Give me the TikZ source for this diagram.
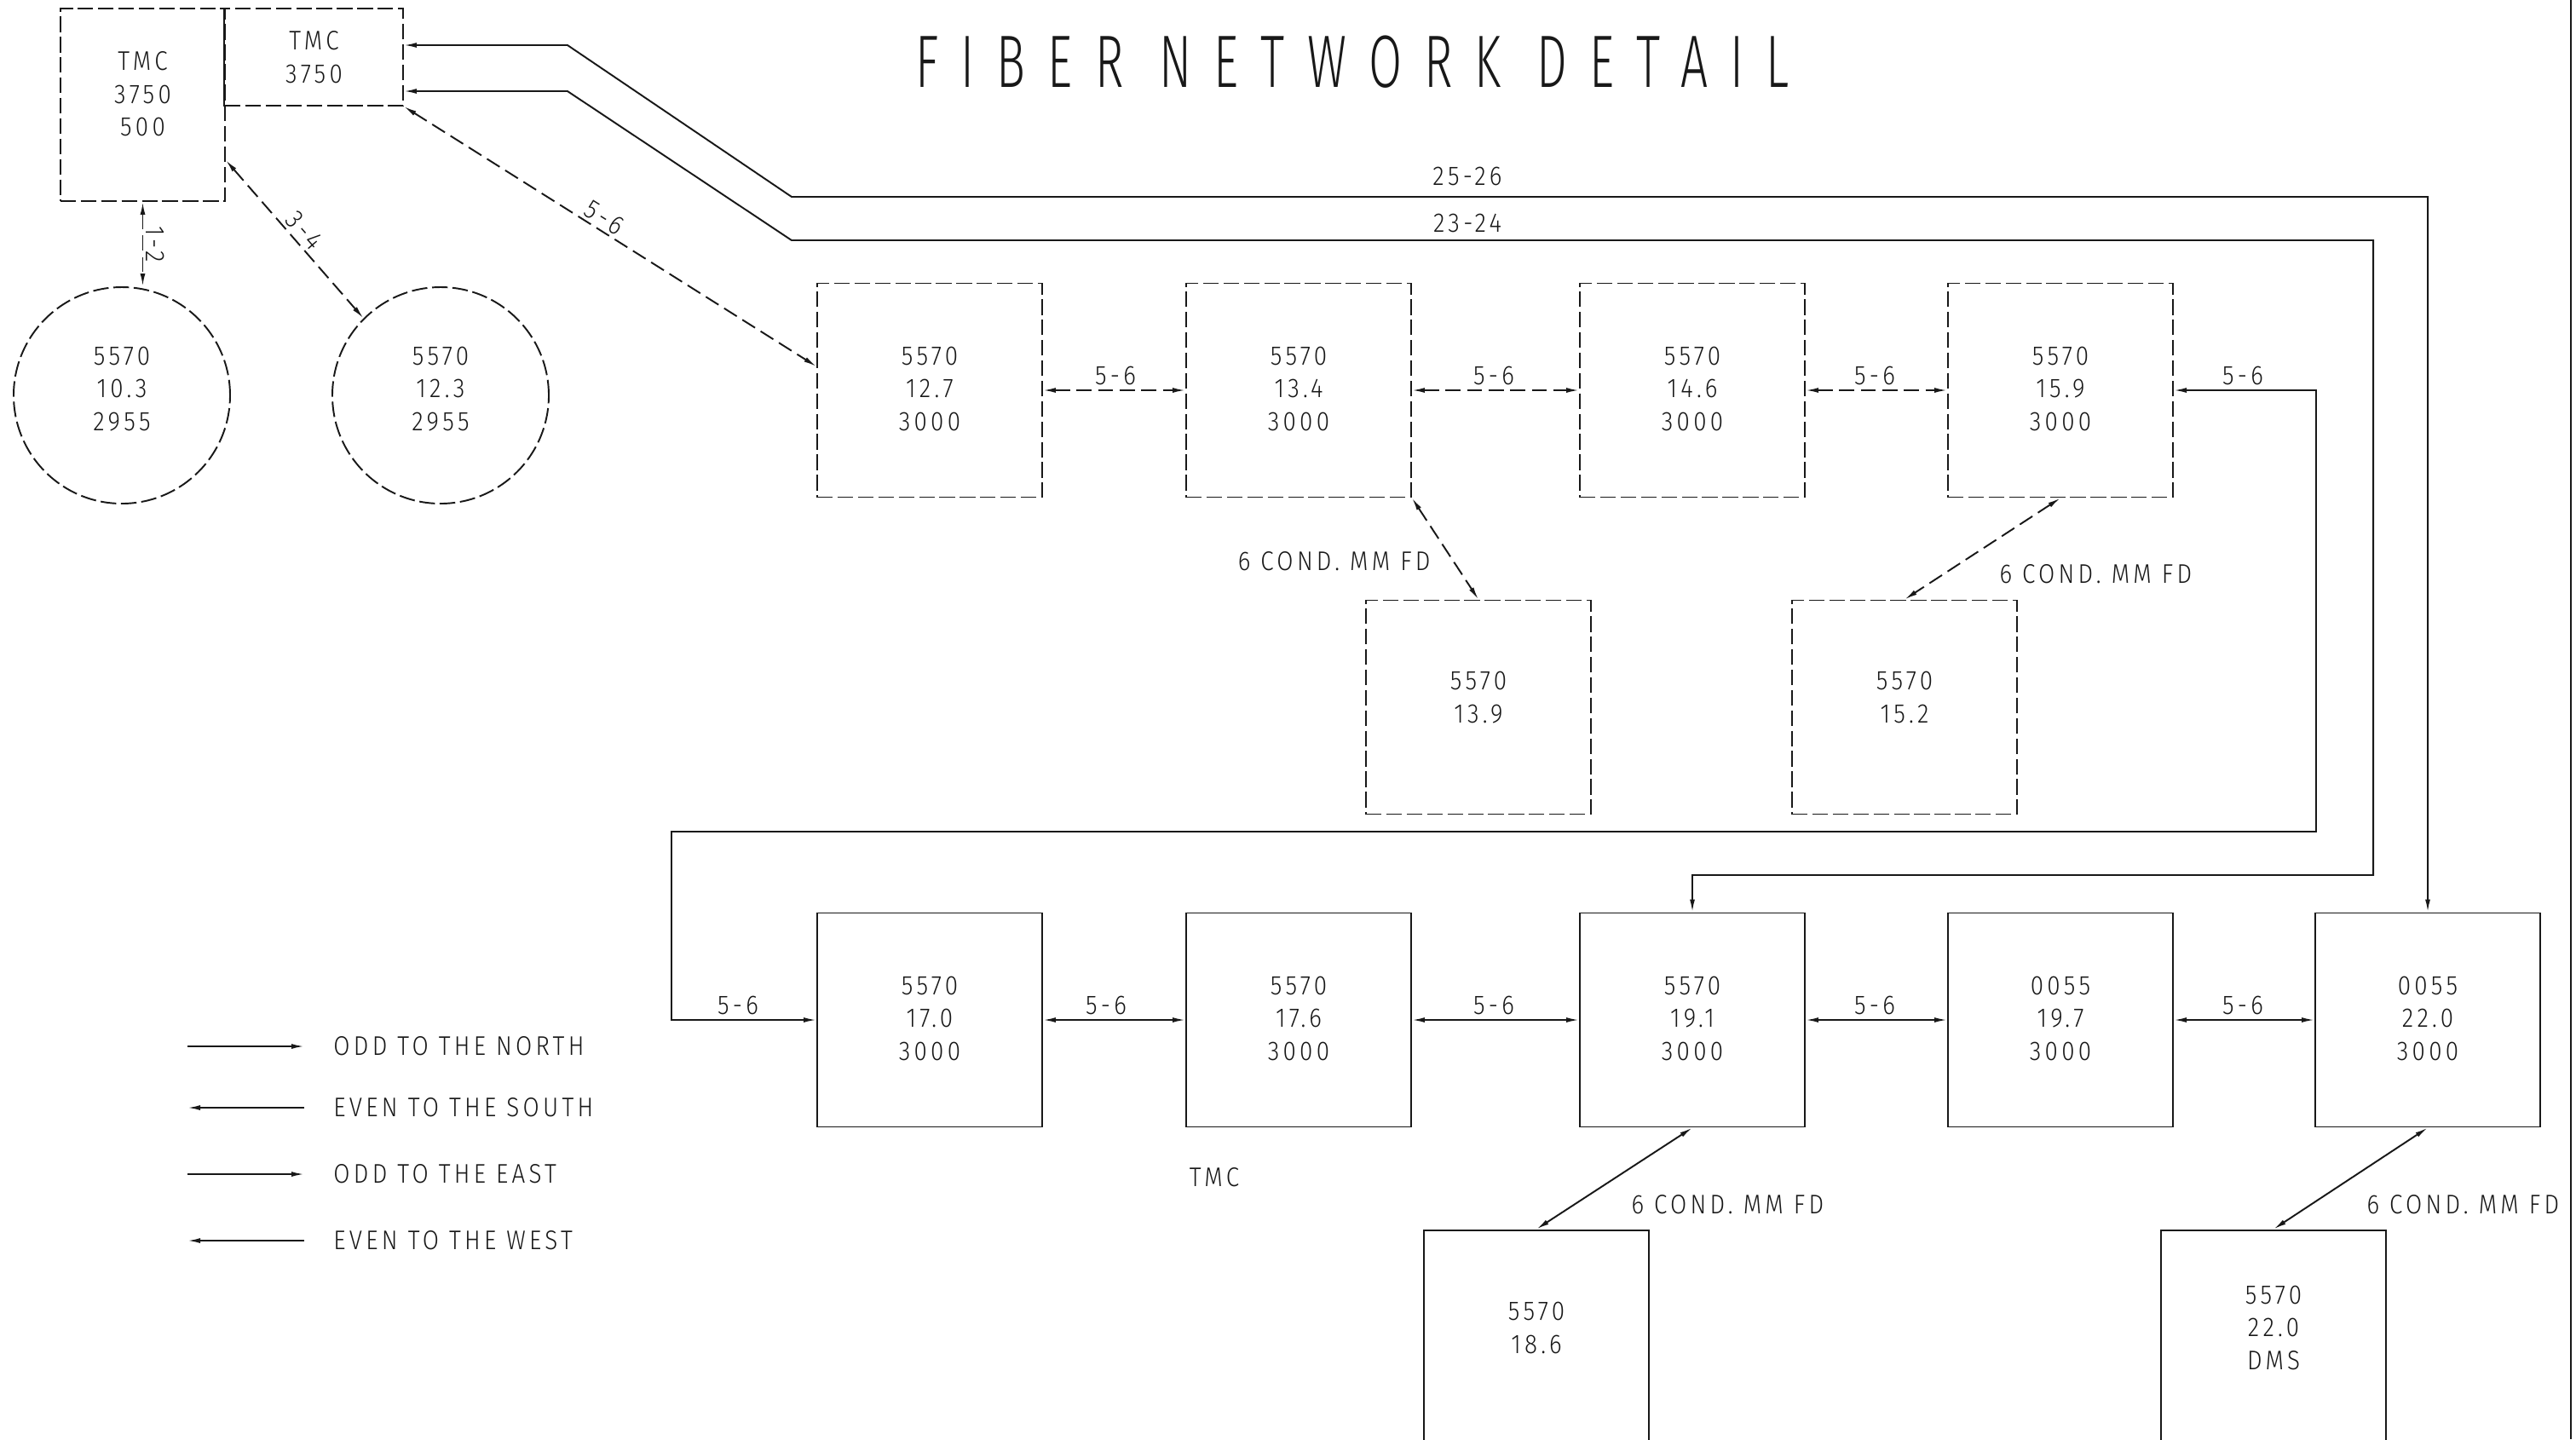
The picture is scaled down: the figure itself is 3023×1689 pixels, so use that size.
\documentclass[tikz,border=0pt]{standalone}
\usepackage{fontspec}
\setmainfont{Fira Sans Light}[FakeStretch=0.88, LetterSpace=13.5]
\newfontfamily\titlefont{Fira Sans Light}[FakeStretch=0.65, LetterSpace=30]
\usetikzlibrary{arrows.meta,calc}
\definecolor{cadink}{RGB}{24,24,24}
\newcommand{\cadtext}{\fontsize{9}{11}\selectfont}

\begin{document}
\begin{tikzpicture}[x=0.1mm, y=-0.1mm, line width=0.55pt, draw=cadink, text=cadink,
  dbox/.style={draw, dash pattern=on 5.2pt off 1.6pt, minimum width=2.64cm,
    minimum height=2.51cm, inner sep=0pt, align=center, font=\cadtext, text depth=0.4mm},
  sbox/.style={dbox, solid},
  dcirc/.style={dbox, circle, minimum size=2.54cm, text depth=1.6mm},
  lbl/.style={font=\cadtext, inner sep=1pt},
  slink/.style={draw, {Latex[length=1.5mm,width=0.6mm]}-{Latex[length=1.5mm,width=0.6mm]}},
  dlink/.style={slink, dash pattern=on 5pt off 2.2pt},
  ltip/.style={draw, -{Latex[length=1.5mm,width=0.6mm]}}
]
\useasboundingbox (0,0) rectangle (3023,1689);
\node[font=\titlefont\fontsize{24.8}{28}\selectfont] (title) at (1587,73) {FIBER NETWORK DETAIL};
% TMC cabinets and the two field circles
\node[dbox, minimum width=1.93cm, minimum height=2.26cm, text depth=2.6mm] (tmca) at (167.5,123) {TMC\\3750\\500};
\node[dbox, minimum width=2.09cm, minimum height=1.14cm, text depth=0mm] (tmcb) at (368.5,67) {TMC\\3750};
\draw (tmcb.north west) -- (tmcb.south west);
\node[dcirc] (c103) at (143,464) {5570\\10.3\\2955};
\node[dcirc] (c123) at (517,464) {5570\\12.3\\2955};
\draw[dlink] (tmca.south) -- node[lbl, rotate=-90, anchor=south] (l12) {1-2} (tmca.south |- c103.north);
\draw[dlink] ([yshift=-6.5mm]tmca.east) -- node[lbl, sloped, above] (l34) {3-4} (c123.north west);
% upper row, dashed
\foreach \nm/\x/\km in {b127/1091/12.7, b134/1524/13.4, b146/1986/14.6, b159/2418/15.9}
  \node[dbox] (\nm) at (\x,458) {5570\\\km\\3000};
\foreach \nm/\x/\km in {b139/1735/13.9, b152/2235/15.2}
  \node[dbox, text depth=2.4mm] (\nm) at (\x,830) {5570\\\km};
% lower row, solid
\foreach \nm/\x/\rt/\km in {b170/1091/5570/17.0, b176/1524/5570/17.6, b191/1986/5570/19.1,
    b197/2418/0055/19.7, b220/2849/0055/22.0}
  \node[sbox] (\nm) at (\x,1197) {\rt\\\km\\3000};
\node[sbox, text depth=2.2mm] (b186) at (1803,1569) {5570\\18.6};
\node[sbox, text depth=2.2mm] (bdms) at (2668,1569) {5570\\22.0\\DMS};
% 5-6 chain
\draw[dlink] (tmcb.south east) -- node[lbl, sloped, above, pos=0.47] (l56) {5-6} ([yshift=2.8mm]b127.west);
\foreach \a/\b/\lx in {b127/b134/1309, b134/b146/1753, b146/b159/2200} {
  \draw[dlink] (\a.east) -- (\b.west);
  \node[lbl] (l\a) at (\lx,441) {5-6};
}
\foreach \a/\b/\lx in {b170/b176/1298, b176/b191/1753, b191/b197/2200, b197/b220/2632} {
  \draw[slink] (\a.east) -- (\b.west);
  \node[lbl] (l\a) at (\lx,1180) {5-6};
}
\coordinate (rte) at (2718,976);
\coordinate (rtw) at (788,976);
\draw[slink] (b159.east) -| (rte) -- (rtw) |- (b170.west);
\node[lbl] (lrtn) at (2632,441) {5-6};
\node[lbl] (lrts) at (866,1180) {5-6};
% trunks back to the TMC
\coordinate (k2526) at (929,231);
\coordinate (k2324) at (929,282);
\coordinate (k2324e) at (2785,1027);
\draw[slink] ([yshift=1.4mm]tmcb.east) -- ++(192,0) -- (k2526) -| (b220.north);
\draw[slink] ([yshift=-4mm]tmcb.east) -- ++(192,0) -- (k2324) -| (k2324e) -| (b191.north);
\node[lbl] (l2526) at (1722,207) {25-26};
\node[lbl] (l2324) at (1722,262) {23-24};
% drops
\draw[dlink] (b134.south east) -- (b139.north);
\node[lbl, anchor=east] (lc139) at (1683,659) {6 COND. MM FD};
\draw[dlink] (b159.south) -- (b152.north);
\node[lbl, anchor=west] (lc152) at (2342,674) {6 COND. MM FD};
\draw[slink] (b191.south) -- (b186.north);
\node[lbl, anchor=west] (lc186) at (1910,1414) {6 COND. MM FD};
\draw[slink] (b220.south) -- (bdms.north);
\node[lbl, anchor=west] (lcdms) at (2773,1414) {6 COND. MM FD};
\node[lbl] (ltmc) at (1425,1382) {TMC};
% legend
\foreach \i/\y/\s/\e/\txt in {1/1228/a/b/ODD TO THE NORTH, 2/1300/b/a/EVEN TO THE SOUTH,
    3/1378/a/b/ODD TO THE EAST, 4/1456/b/a/EVEN TO THE WEST} {
  \coordinate (lga\i) at (220,\y);
  \coordinate (lgb\i) at (357,\y);
  \draw[ltip] (lg\s\i) -- (lg\e\i);
  \node[lbl, anchor=west] (lgt\i) at (387,\y) {\txt};
}
\draw (3017,0) -- (3017,1689);
\end{tikzpicture}
\end{document}
